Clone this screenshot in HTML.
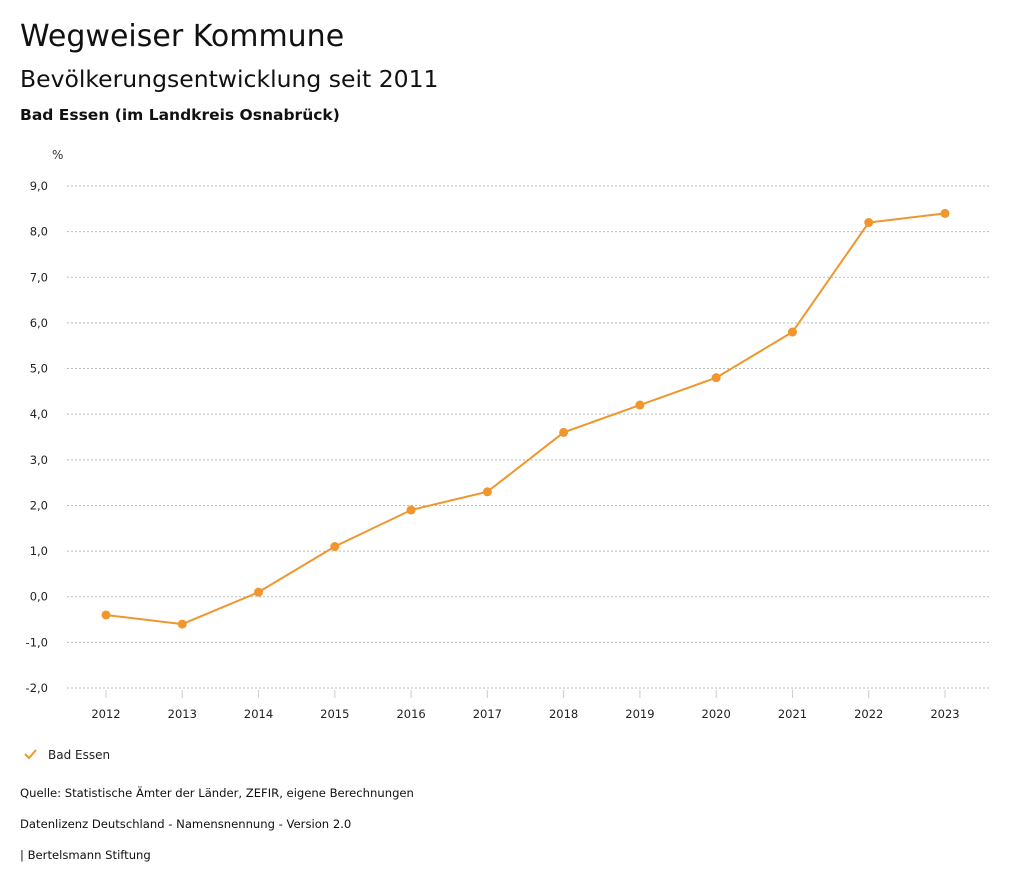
<!DOCTYPE html>
<html><head><meta charset="utf-8"><style>
body{margin:0;background:#fff;font-family:"DejaVu Sans","Liberation Sans",sans-serif;color:#111;}
.t{position:absolute;left:20px;white-space:nowrap}
</style></head><body>
<div style="position:relative;width:1024px;height:888px;overflow:hidden">
<div class="t" style="top:19px;font-size:30px">Wegweiser Kommune</div>
<div class="t" style="top:65px;font-size:23.5px">Bevölkerungsentwicklung seit 2011</div>
<div class="t" style="top:106px;font-size:15.5px;font-weight:600">Bad Essen (im Landkreis Osnabrück)</div>
<svg id="chart" width="1024" height="888" style="position:absolute;left:0;top:0;font-family:'DejaVu Sans',sans-serif"></svg>
<div class="t" style="top:786px;font-size:11.6px">Quelle: Statistische Ämter der Länder, ZEFIR, eigene Berechnungen</div>
<div class="t" style="top:817px;font-size:11.6px">Datenlizenz Deutschland - Namensnennung - Version 2.0</div>
<div class="t" style="top:848px;font-size:11.6px">| Bertelsmann Stiftung</div>
</div>
<script>
const years=["2012","2013","2014","2015","2016","2017","2018","2019","2020","2021","2022","2023"];
const values=[-0.4,-0.6,0.1,1.1,1.9,2.3,3.6,4.2,4.8,5.8,8.2,8.4];
const yTicks=[9,8,7,6,5,4,3,2,1,0,-1,-2];
const NS="http://www.w3.org/2000/svg";
const svg=document.getElementById('chart');
const y=v=>186+(9-v)*(502/11);
const x=i=>106+i*(839/11);
function mk(t,a){const e=document.createElementNS(NS,t);for(const k in a)e.setAttribute(k,a[k]);svg.appendChild(e);return e;}
let u=mk('text',{x:52,y:159,'font-size':12,fill:'#333'});u.textContent='%';


yTicks.forEach(v=>{
 const l=mk('line',{x1:67,x2:990,y1:y(v),y2:y(v),stroke:'#bbb','stroke-dasharray':'2,2','stroke-width':1});
 
 
 const t=mk('text',{x:48,y:y(v)+4,'text-anchor':'end','font-size':11.5,fill:'#222'});
 t.textContent=v.toFixed(1).replace('.',',');
 
 
});
years.forEach((yr,i)=>{
 const l=mk('line',{x1:x(i),x2:x(i),y1:690,y2:698,stroke:'#ccc'});
 
 
 const t=mk('text',{x:x(i),y:718,'text-anchor':'middle','font-size':11.5,fill:'#222'});
 t.textContent=yr;
 
 
});
const p=mk('polyline',{points:values.map((v,i)=>x(i)+','+y(v)).join(' '),fill:'none',stroke:'#f0962d','stroke-width':2});


values.forEach((v,i)=>{
 const c=mk('circle',{cx:x(i),cy:y(v),r:4.5,fill:'#f0962d'});
 
 
});
const g=mk('polyline',{points:'25,754 29,758 36,750',fill:'none',stroke:'#f0962d','stroke-width':2});


const lt=mk('text',{x:48,y:759,'font-size':12,fill:'#222'});lt.textContent='Bad Essen';


</script>
</body></html>
